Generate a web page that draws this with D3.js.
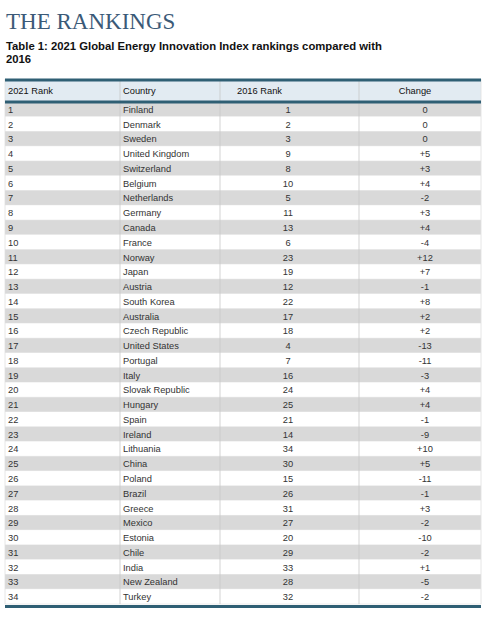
<!DOCTYPE html>
<html><head><meta charset="utf-8">
<script src="https://cdn.jsdelivr.net/npm/d3@7"></script>
<style>body{margin:0;background:#fff}</style>
</head><body>
<script>
var countries = ["Finland","Denmark","Sweden","United Kingdom","Switzerland","Belgium","Netherlands","Germany","Canada","France","Norway","Japan","Austria","South Korea","Australia","Czech Republic","United States","Portugal","Italy","Slovak Republic","Hungary","Spain","Ireland","Lithuania","China","Poland","Brazil","Greece","Mexico","Estonia","Chile","India","New Zealand","Turkey"];
var rank2016 = [1,2,3,9,8,10,5,11,13,6,23,19,12,22,17,18,4,7,16,24,25,21,14,34,30,15,26,31,27,20,29,33,28,32];
var changes = ["0","0","0","+5","+3","+4","-2","+3","+4","-4","+12","+7","-1","+8","+2","+2","-13","-11","-3","+4","+4","-1","-9","+10","+5","-11","-1","+3","-2","-10","-2","+1","-5","-2"];
var headers = ["2021 Rank","Country","2016 Rank","Change"];

var W = 486, H = 620;
var svg = d3.select("body").append("svg").attr("width", W).attr("height", H);

svg.append("text").attr("x", 6).attr("y", 29).attr("font-family", "Liberation Serif")
	.attr("font-size", 23).attr("fill", "#3b5a78").text("THE RANKINGS");
svg.append("text").attr("x", 6).attr("y", 50).attr("font-family", "Liberation Sans")
	.attr("font-size", 11.3).attr("font-weight", "bold").attr("fill", "#111").text("Table 1: 2021 Global Energy Innovation Index rankings compared with");
svg.append("text").attr("x", 6).attr("y", 63).attr("font-family", "Liberation Sans")
	.attr("font-size", 11.3).attr("font-weight", "bold").attr("fill", "#111").text("2016");

var x0 = 5, x1 = 481;
var colX = [5, 120, 220, 359, 481];
var y = d3.scaleBand().domain(d3.range(countries.length)).range([102, 604]);

// header
svg.append("rect").attr("x", x0).attr("y", 79).attr("width", x1 - x0).attr("height", 22).attr("fill", "#e2ebf2");
var headX = [8, 123, 237, 415];
var headAnchor = ["start","start","start","middle"];
headers.forEach(function(h, i){
	svg.append("text").attr("x", headX[i]).attr("y", 94).attr("text-anchor", headAnchor[i])
		.attr("font-family", "Liberation Sans").attr("font-size", 9.3).attr("fill", "#111").text(h);
});

var rows = svg.selectAll("g.row").data(countries).enter().append("g").attr("class", "row")
	.attr("transform", function(d, i){ return "translate(0," + y(i) + ")"; });
rows.append("rect").attr("x", x0).attr("width", x1 - x0).attr("height", y.bandwidth())
	.attr("fill", function(d, i){ return i % 2 == 0 ? "#d9d9d9" : "#fff"; });
rows.append("line").attr("x1", x0).attr("x2", x1).attr("y1", y.bandwidth()).attr("y2", y.bandwidth())
	.attr("stroke", "#ececec").attr("stroke-width", 1);

var ty = y.bandwidth() / 2 + 3.5;
var font = function(s){ return s.attr("font-family", "Liberation Sans").attr("font-size", 9.3).attr("fill", "#333"); };
font(rows.append("text").attr("x", 8).attr("y", ty).text(function(d, i){ return i + 1; }));
font(rows.append("text").attr("x", 123).attr("y", ty).text(function(d){ return d; }));
font(rows.append("text").attr("x", 288).attr("y", ty).attr("text-anchor", "middle").text(function(d, i){ return rank2016[i]; }));
font(rows.append("text").attr("x", 425).attr("y", ty).attr("text-anchor", "middle").text(function(d, i){ return changes[i]; }));

// column dividers
colX.slice(1, 4).forEach(function(cx){
	svg.append("line").attr("x1", cx).attr("x2", cx).attr("y1", 79).attr("y2", 604)
		.attr("stroke", "#c8c8c8").attr("stroke-width", 0.8);
});
[5, 481].forEach(function(cx){
	svg.append("line").attr("x1", cx).attr("x2", cx).attr("y1", 79).attr("y2", 604)
		.attr("stroke", "#e0e0e0").attr("stroke-width", 0.8);
});

// thick rules
[[78.5, 3], [100.5, 3], [605, 3]].forEach(function(r){
	svg.append("rect").attr("x", x0).attr("y", r[0]).attr("width", x1 - x0).attr("height", r[1]).attr("fill", "#2f5f74");
});
</script>
</body></html>
